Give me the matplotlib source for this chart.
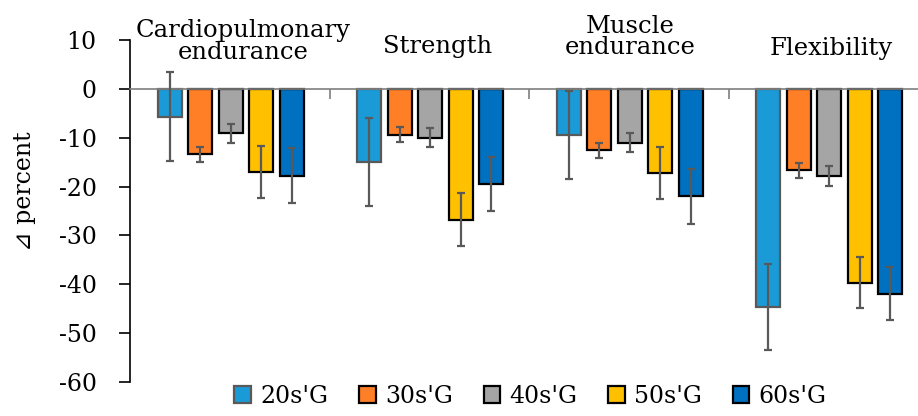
import numpy as np
import matplotlib
matplotlib.use("Agg")
import matplotlib.pyplot as plt

# data
categories = ["Cardiopulmonary\nendurance", "Strength", "Muscle\nendurance", "Flexibility"]
groups = ["20s'G", "30s'G", "40s'G", "50s'G", "60s'G"]
g20 = [-5.7, -14.9, -9.5, -44.7]
g30 = [-13.4, -9.4, -12.6, -16.7]
g40 = [-9.1, -10.0, -11.0, -17.8]
g50 = [-17.0, -26.8, -17.3, -39.7]
g60 = [-17.8, -19.5, -22.0, -41.9]
e20 = [9.1, 9.0, 9.0, 8.8]
e30 = [1.6, 1.5, 1.5, 1.5]
e40 = [2.0, 2.0, 2.0, 2.0]
e50 = [5.4, 5.4, 5.3, 5.2]
e60 = [5.6, 5.6, 5.6, 5.5]
yticks = [10, 0, -10, -20, -30, -40, -50, -60]

values = [g20, g30, g40, g50, g60]
errors = [e20, e30, e40, e50, e60]
colors = ["#1A9BD7", "#FF7F27", "#A5A5A5", "#FFC000", "#0070C0"]
edges = ["#595959", "black", "black", "black", "black"]

plt.rcParams['font.family'] = ['DejaVu Serif', 'DejaVu Sans']

fig = plt.figure(figsize=(9.18, 4.16), dpi=100)
ax = fig.add_axes([130/918, 1 - 382/416, 798/918, 342/416])

x = np.arange(len(categories)) + 0.505
step = 0.153
for i in range(len(groups)):
    ax.bar(x + (i - 2) * step, values[i], width=0.122, color=colors[i],
           edgecolor=edges[i], linewidth=1.6, label=groups[i], zorder=2)
    ax.errorbar(x + (i - 2) * step, values[i], yerr=errors[i], fmt='none',
                ecolor="#595959", elinewidth=1.6, capsize=3.2, capthick=1.6, zorder=3)

ax.set_xlim(0, 4)
ax.set_ylim(-60, 10)
ax.set_yticks(yticks)
ax.set_yticklabels([str(t) for t in yticks], fontsize=17)
ax.tick_params(axis='y', length=8, width=1.2, pad=16)
fig.text(24/918, 1 - 191/416, "⊿ percent", rotation=90, fontsize=17,
         ha='center', va='center')

ax.spines['top'].set_visible(False)
ax.spines['right'].set_visible(False)
ax.spines['left'].set_linewidth(1.2)
ax.spines['bottom'].set_position(('data', 0))
ax.spines['bottom'].set_color("#7F7F7F")
ax.spines['bottom'].set_linewidth(1.2)
ax.set_xticks([1, 2, 3])
ax.set_xticklabels([])
ax.tick_params(axis='x', length=7, width=1.2, color="#7F7F7F", direction='out')

label_x = [0.565, 1.54, 2.505, 3.515]
label_y = [14.2, 11.0, 15.2, 10.6]
for lx, ly, c in zip(label_x, label_y, categories):
    ax.text(lx, ly, c, ha='center', va='top', fontsize=17.5,
            linespacing=0.9, clip_on=False)

fig.legend(loc='lower center', bbox_to_anchor=(0.578, -0.008), ncol=5,
           frameon=False, fontsize=17, handlelength=0.7, handleheight=0.7,
           handletextpad=0.4, columnspacing=1.3, borderpad=0)

fig.savefig("out.png", dpi=100)
